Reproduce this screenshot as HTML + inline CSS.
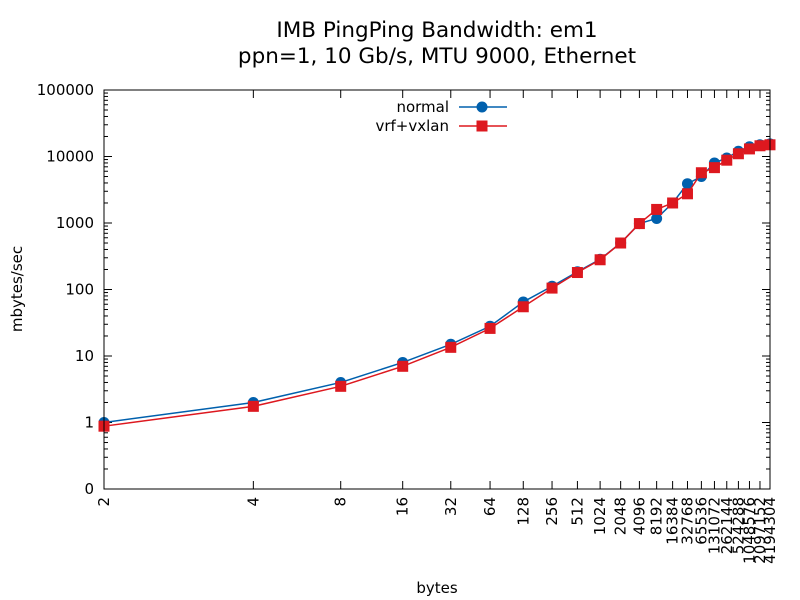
<!DOCTYPE html>
<html><head><meta charset="utf-8"><style>
body{margin:0;background:#fff;}
svg{display:block;font-family:"DejaVu Sans","Liberation Sans",sans-serif;}
</style></head><body>
<svg id="chart" width="800" height="600">
<text x="437" y="37" font-size="21.5" text-anchor="middle">IMB PingPing Bandwidth: em1</text>
<text x="437" y="63" font-size="21.5" text-anchor="middle">ppn=1, 10 Gb/s, MTU 9000, Ethernet</text>
<text x="22" y="289" font-size="15" text-anchor="middle" transform="rotate(-90 22 289)">mbytes/sec</text>
<text x="437" y="593" font-size="15" text-anchor="middle">bytes</text>
<g id="axes"></g>
<g id="series"></g>
<rect x="104" y="90" width="666" height="399" fill="none" stroke="#000" stroke-width="1"/>
</svg>
<script>
const categories=[2,4,8,16,32,64,128,256,512,1024,2048,4096,8192,16384,32768,65536,131072,262144,524288,1048576,2097152,4194304];
const normalValues=[1.0,2.0,4.0,8.0,15,28,65,112,185,285,500,980,1170,2000,3900,5000,8000,9500,12000,14000,15000,15500];
const vxlanValues=[0.88,1.75,3.5,7.0,13.5,26,55,105,180,280,500,980,1600,2000,2750,5700,6800,8800,11000,13000,14500,15000];
const yTicks=[0.1,1,10,100,1000,10000,100000];
const yTickLabels=["0","1","10","100","1000","10000","100000"];
const NS="http://www.w3.org/2000/svg";
const X0=104,X1=770,Y0=489,Y1=90;
const lmax=Math.log(Math.log2(4194304));
function xs(b){const l=Math.log2(b);return X0+Math.log(l)/lmax*(X1-X0);}
function ys(v){return Y0-(Math.log10(v)+1)/6*(Y0-Y1);}
function mk(t,a,p){const e=document.createElementNS(NS,t);for(const k in a)e.setAttribute(k,a[k]);(p||document.getElementById('axes')).appendChild(e);return e;}
yTicks.forEach((v,i)=>{const y=ys(v);
const t=mk('line',{x1:X0,x2:X0+8,y1:y,y2:y,stroke:'#000'});


const t2=mk('line',{x1:X1-8,x2:X1,y1:y,y2:y,stroke:'#000'});


if(i<yTicks.length-1){for(let m=2;m<10;m++){const yy=ys(v*m);mk('line',{x1:X0,x2:X0+4,y1:yy,y2:yy,stroke:'#000'});mk('line',{x1:X1-4,x2:X1,y1:yy,y2:yy,stroke:'#000'});}}
const l=mk('text',{x:X0-10,y:y+5,'font-size':15,'text-anchor':'end'});l.textContent=yTickLabels[i];


});
categories.forEach(c=>{const x=xs(c);
const t=mk('line',{x1:x,x2:x,y1:Y0,y2:Y0-8,stroke:'#000'});


mk('line',{x1:x,x2:x,y1:Y1,y2:Y1+8,stroke:'#000'});
const l=mk('text',{x:x+5,y:497,'font-size':15,'text-anchor':'end',transform:`rotate(-90 ${x+5} 497)`});l.textContent=c;


});
const sg=document.getElementById('series');
function series(vals,color,shape,name,ly,label){
const g=mk('g',{},sg);


mk('polyline',{points:categories.map((c,i)=>xs(c)+','+ys(vals[i])).join(' '),fill:'none',stroke:color,'stroke-width':1.5},g);
const drawM=(x,y)=>{if(shape==='circle')mk('circle',{cx:x,cy:y,r:5.5,fill:color},g);else mk('rect',{x:x-5.5,y:y-5.5,width:11,height:11,fill:color},g);};
categories.forEach((c,i)=>drawM(xs(c),ys(vals[i])));
const lg=mk('g',{},sg);


const tx=mk('text',{x:449,y:ly+5,'font-size':15,'text-anchor':'end'},lg);tx.textContent=label;
mk('line',{x1:459,x2:507,y1:ly,y2:ly,stroke:color,'stroke-width':1.5},lg);
if(shape==='circle')mk('circle',{cx:482,cy:ly,r:5.5,fill:color},lg);else mk('rect',{x:476.5,y:ly-5.5,width:11,height:11,fill:color},lg);
}
series(normalValues,'#0060ad','circle','series-normal',107,'normal');
series(vxlanValues,'#dd181f','square','series-vrf-vxlan',126,'vrf+vxlan');
</script>
</body></html>
